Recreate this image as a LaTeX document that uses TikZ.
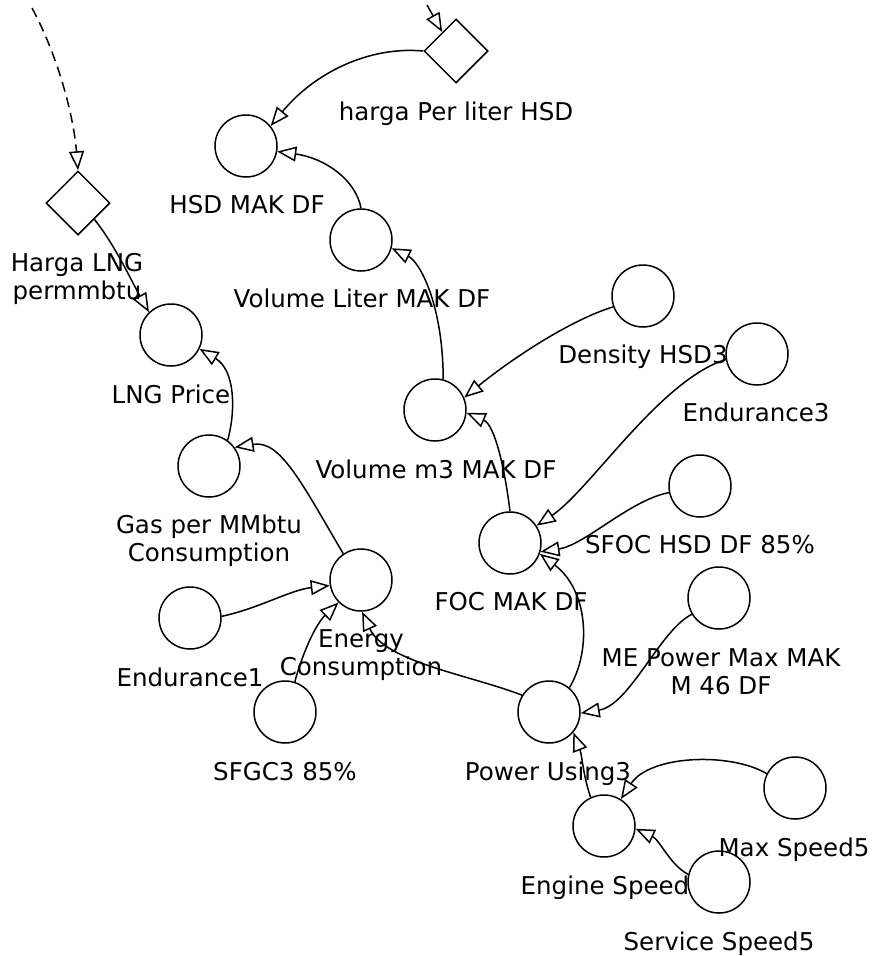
\documentclass[tikz,border=0pt]{standalone}
\usepackage{fontspec}
\setmainfont{DejaVu Sans}
\usetikzlibrary{shapes.geometric,arrows.meta}
\begin{document}
\begin{tikzpicture}[x=1pt,y=-1pt,
  var/.style={circle, draw, line width=1.5pt, minimum size=62pt, inner sep=0pt},
  ext/.style={diamond, draw, line width=1.5pt, minimum width=64pt, minimum height=64pt, inner sep=0pt},
  lbl/.style={anchor=north, inner sep=0pt, align=center, font=\fontsize{24.5}{28}\selectfont},
  link/.style={line width=1.5pt, -{Triangle[open, length=19pt, width=15pt]}},
  dashlink/.style={link, dash pattern=on 10pt off 6pt}]
\useasboundingbox (0,0) rectangle (874,956);
% stocks / variables
\node[ext] (hLNG) at (78,203) {};
\node[ext] (hHSD) at (456,51) {};
\node[var] (HSD) at (246,146) {};
\node[var] (VolL) at (361,240) {};
\node[var] (LNGP) at (171,335) {};
\node[var] (Gas) at (209,466) {};
\node[var] (Vm3) at (435,410) {};
\node[var] (En) at (361,580) {};
\node[var] (E1) at (190,618) {};
\node[var] (SFGC) at (285,712) {};
\node[var] (Dens) at (643,296) {};
\node[var] (E3) at (757,354) {};
\node[var] (FOC) at (510,543) {};
\node[var] (SFOC) at (700,486) {};
\node[var] (MEP) at (719,598) {};
\node[var] (PU) at (549,712) {};
\node[var] (ES) at (604,826) {};
\node[var] (MS) at (795,788) {};
\node[var] (SS) at (719,882) {};
% labels
\node[lbl] (hLNGl) at (77,253) {Harga LNG\\permmbtu};
\node[lbl] (hHSDl) at (456,102) {harga Per liter HSD};
\node[lbl] (HSDl) at (247,195) {HSD MAK DF};
\node[lbl] (VolLl) at (362,289) {Volume Liter MAK DF};
\node[lbl] (LNGPl) at (171,385) {LNG Price};
\node[lbl] (Gasl) at (209,515) {Gas per MMbtu\\Consumption};
\node[lbl] (Vm3l) at (436,460) {Volume m3 MAK DF};
\node[lbl] (Enl) at (361,629) {Energy\\Consumption};
\node[lbl] (E1l) at (190,668) {Endurance1};
\node[lbl] (SFGCl) at (285,762) {SFGC3 85\%};
\node[lbl] (Densl) at (643,345) {Density HSD3};
\node[lbl] (E3l) at (756,403) {Endurance3};
\node[lbl] (FOCl) at (511,592) {FOC MAK DF};
\node[lbl] (SFOCl) at (700,535) {SFOC HSD DF 85\%};
\node[lbl] (MEPl) at (721,648) {ME Power Max MAK\\M 46 DF};
\node[lbl] (PUl) at (548,762) {Power Using3};
\node[lbl] (ESl) at (605,876) {Engine Speed};
\node[lbl] (MSl) at (794,838) {Max Speed5};
\node[lbl] (SSl) at (719,932) {Service Speed5};
% free ends
\coordinate (src1) at (32,8);
\coordinate (src2) at (427,5);
% connectors
\draw[dashlink] (src1) .. controls (60,60) and (74,120) .. (hLNG.north);
\draw[link] (src2) -- (hHSD.126);
\draw[link] (hLNG.south east) .. controls (115,245) and (132,282) .. (LNGP.134);
\draw[link] (hHSD.west) .. controls (370,46) and (315,72) .. (HSD.39);
\draw[link] (VolL.north) .. controls (356,180) and (325,158) .. (HSD.350);
\draw[link] (Vm3.75) .. controls (443,305) and (420,262) .. (VolL.345);
\draw[link] (Dens.200) .. controls (570,320) and (510,360) .. (Vm3.23);
\draw[link] (FOC.north) .. controls (505,470) and (495,425) .. (Vm3.355);
\draw[link] (E3.190) .. controls (660,380) and (590,490) .. (FOC.33);
\draw[link] (SFOC.192) .. controls (630,500) and (585,545) .. (FOC.344);
\draw[link] (PU.50) .. controls (592,650) and (588,590) .. (FOC.340);
\draw[link] (MEP.211) .. controls (660,630) and (630,705) .. (PU.358);
\draw[link] (PU.148) .. controls (470,675) and (385,662) .. (En.272);
\draw[link] (ES.115) .. controls (583,775) and (582,755) .. (PU.320);
\draw[link] (MS.153) .. controls (730,752) and (650,755) .. (ES.58);
\draw[link] (SS.166) .. controls (670,865) and (660,840) .. (ES.355);
\draw[link] (En.124) .. controls (300,480) and (280,440) .. (Gas.36);
\draw[link] (Gas.54) .. controls (236,410) and (235,370) .. (LNGP.334);
\draw[link] (E1.3) .. controls (260,608) and (290,590) .. (En.190);
\draw[link] (SFGC.72) .. controls (302,655) and (315,625) .. (En.225);
\end{tikzpicture}
\end{document}
